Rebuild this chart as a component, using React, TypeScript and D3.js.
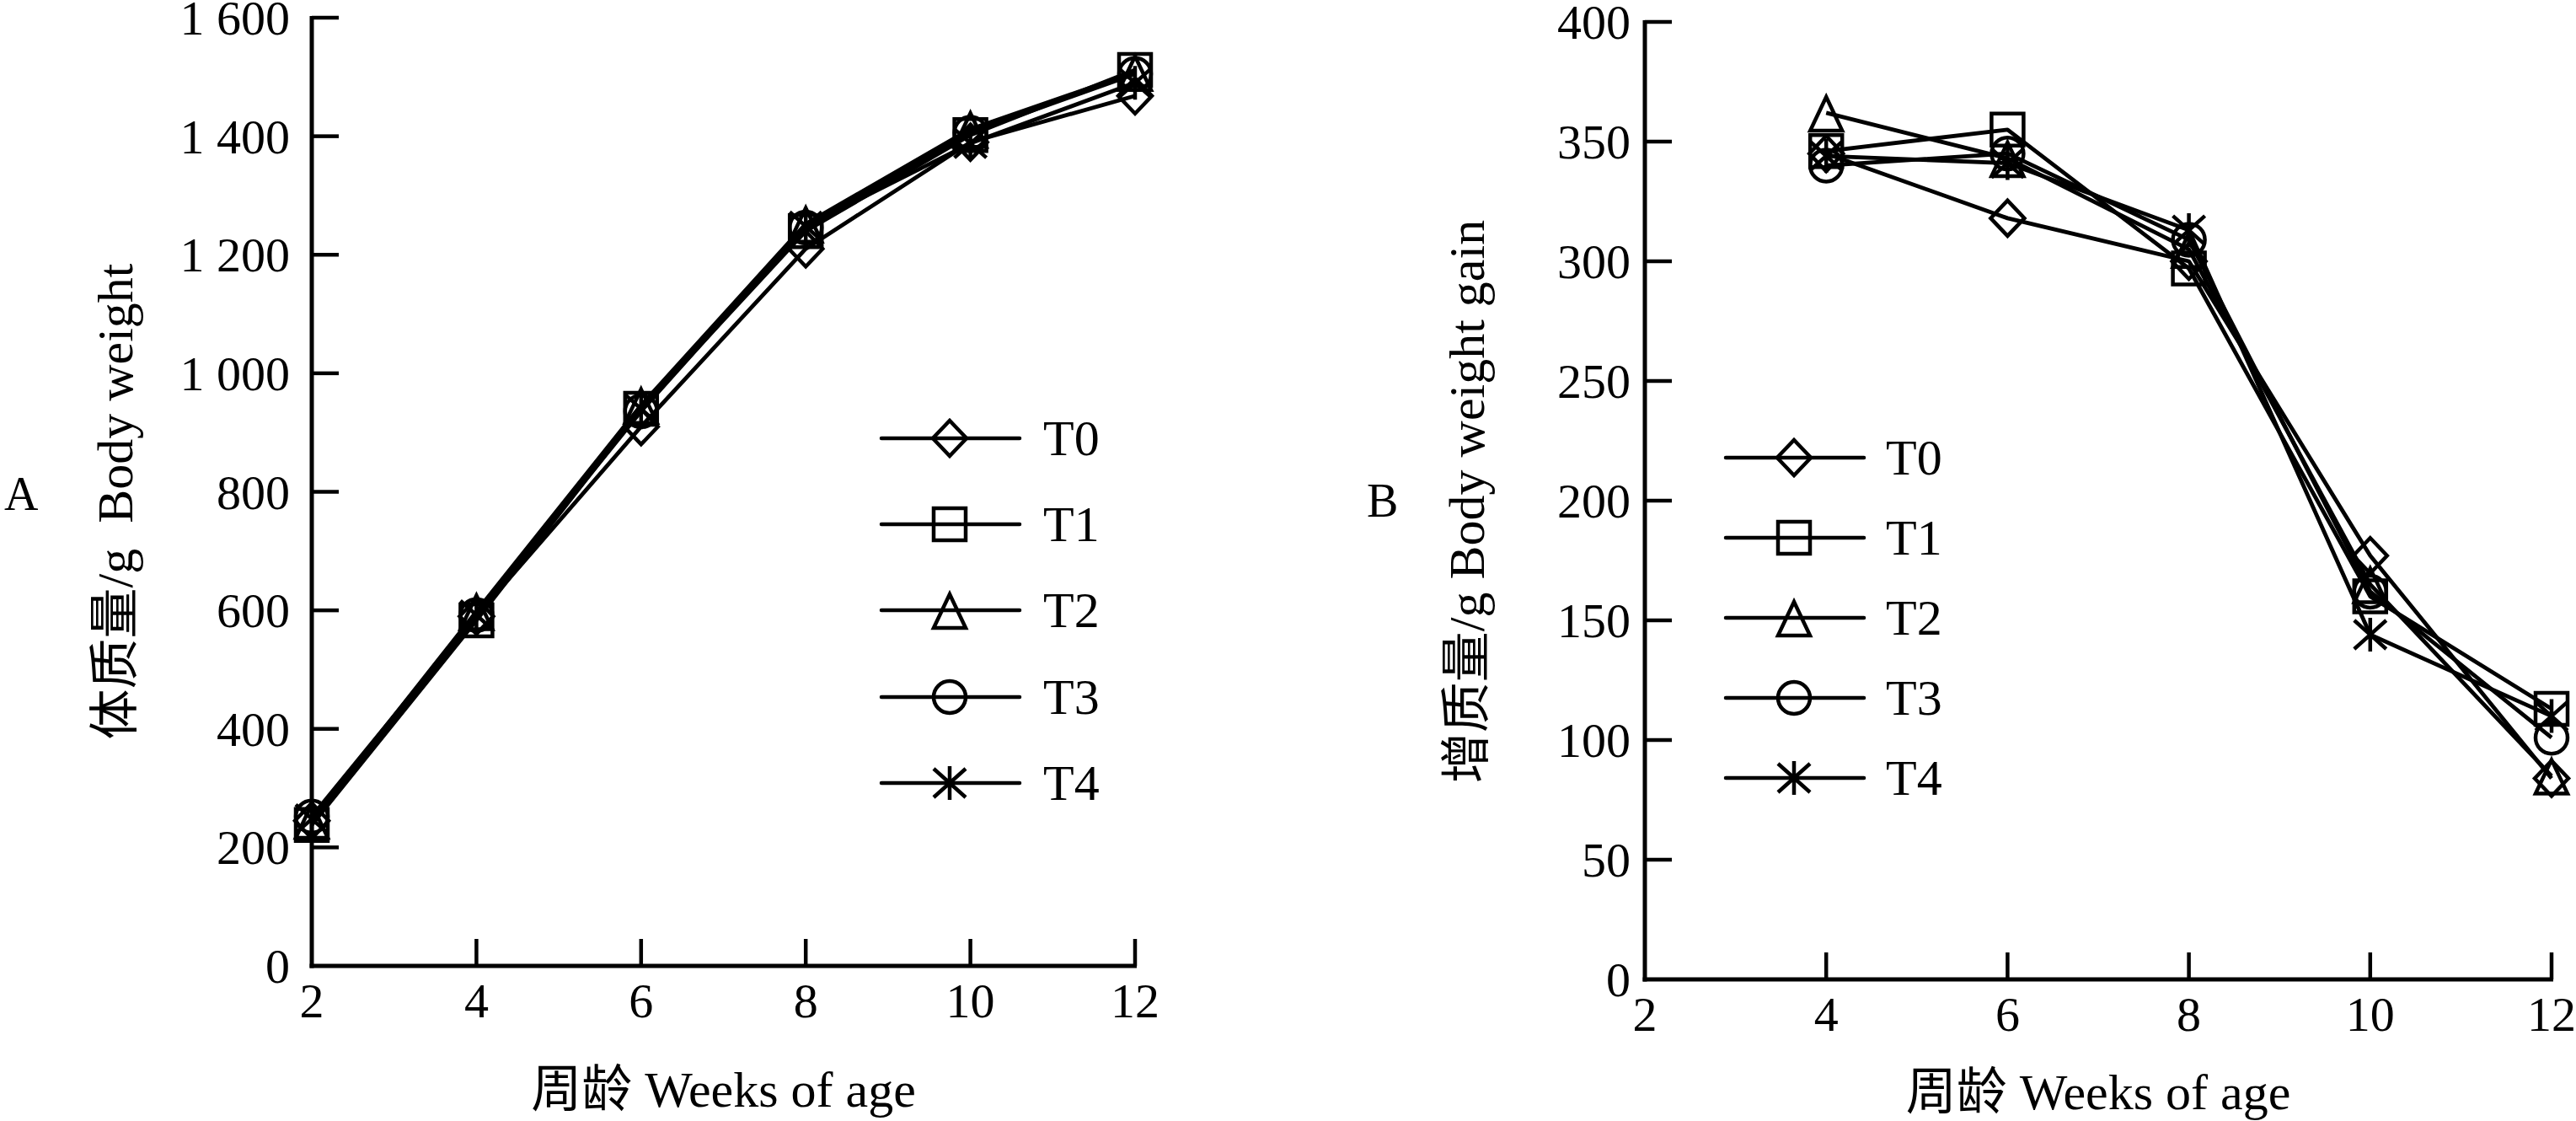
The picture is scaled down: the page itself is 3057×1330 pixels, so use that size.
import { useEffect, useRef } from 'react';
import * as d3 from 'd3';

// weeks of age
const weeks = [2, 4, 6, 8, 10, 12];
const gainWeeks = [4, 6, 8, 10, 12];
const groups = ['T0', 'T1', 'T2', 'T3', 'T4'];

// A: body weight (g)
const weightT0 = [245, 590, 910, 1210, 1390, 1468];
const weightT1 = [238, 583, 940, 1240, 1402, 1512];
const weightT2 = [246, 598, 946, 1252, 1412, 1508];
const weightT3 = [252, 592, 936, 1246, 1406, 1505];
const weightT4 = [248, 592, 940, 1248, 1388, 1490];

// B: body weight gain (g)
const gainT0 = [345, 318, 300, 177, 84];
const gainT1 = [346, 355, 297, 160, 113];
const gainT2 = [362, 343, 305, 165, 85];
const gainT3 = [340, 345, 309, 162, 101];
const gainT4 = [344, 341, 313, 144, 110];

const weekTicks = [2, 4, 6, 8, 10, 12];
const weightTicks = [0, 200, 400, 600, 800, 1000, 1200, 1400, 1600];
const weightTickLabels = ['0', '200', '400', '600', '800', '1 000', '1 200', '1 400', '1 600'];
const gainTicks = [0, 50, 100, 150, 200, 250, 300, 350, 400];
const gainTickLabels = ['0', '50', '100', '150', '200', '250', '300', '350', '400'];

const FONT = "'Liberation Serif', 'Times New Roman', 'Noto Sans CJK SC', serif";

// marker shapes: diamond, square, triangle, circle, asterisk
function markerPath(i: number): string {
  switch (i) {
    case 0: return 'M0,-21L20,0L0,21L-20,0Z';
    case 1: return 'M-19,-19H19V19H-19Z';
    case 2: return 'M0,-19L19,21H-19Z';
    case 3: return 'M19,0A19,19 0 1,1 -19,0A19,19 0 1,1 19,0Z';
    default: return 'M0,-20V20M-19,-17L19,17M-19,17L19,-17';
  }
}

interface PanelOpts {
  letter: string;
  letterX: number;
  letterY: number;
  xRange: [number, number];
  yRange: [number, number];
  yMax: number;
  yTicks: number[];
  yLabels: string[];
  labelGap: number;
  xs: number[];
  series: number[][];
  yTitle: string;
  yTitleX: number;
  yTitleY: number;
  xTitleY: number;
  legendLine: [number, number];
  legendMarker: number;
  legendText: number;
  legendRows: number[];
}

function drawPanel(svg: d3.Selection<SVGSVGElement, unknown, null, undefined>, o: PanelOpts) {
  const x = d3.scaleLinear().domain([2, 12]).range(o.xRange);
  const y = d3.scaleLinear().domain([0, o.yMax]).range(o.yRange);
  const g = svg.append('g');

  // axes
  g.append('line')
    .attr('x1', x(2)).attr('x2', x(2))
    .attr('y1', y(o.yMax) - 2).attr('y2', y(0) + 2.5)
    .attr('stroke', '#000').attr('stroke-width', 5);
  g.append('line')
    .attr('x1', x(2) - 2.5).attr('x2', x(12) + 2)
    .attr('y1', y(0)).attr('y2', y(0))
    .attr('stroke', '#000').attr('stroke-width', 5);

  g.selectAll('.ytick')
    .data(o.yTicks.slice(1))
    .join('line')
    .attr('x1', x(2)).attr('x2', x(2) + 32)
    .attr('y1', d => y(d)).attr('y2', d => y(d))
    .attr('stroke', '#000').attr('stroke-width', 4.5);

  g.selectAll('.xtick')
    .data(weekTicks.slice(1))
    .join('line')
    .attr('x1', d => x(d)).attr('x2', d => x(d))
    .attr('y1', y(0)).attr('y2', y(0) - 32)
    .attr('stroke', '#000').attr('stroke-width', 4.5);

  g.selectAll('.ylab')
    .data(o.yTicks)
    .join('text')
    .attr('x', x(2) - o.labelGap)
    .attr('y', d => y(d) + 20)
    .attr('text-anchor', 'end')
    .attr('font-family', FONT)
    .attr('font-size', 58)
    .style('white-space', 'pre')
    .text((_, i) => o.yLabels[i]);

  g.selectAll('.xlab')
    .data(weekTicks)
    .join('text')
    .attr('x', d => x(d))
    .attr('y', y(0) + 61)
    .attr('text-anchor', 'middle')
    .attr('font-family', FONT)
    .attr('font-size', 58)
    .text(d => String(d));

  // titles
  g.append('text')
    .attr('x', (x(2) + x(12)) / 2)
    .attr('y', o.xTitleY)
    .attr('text-anchor', 'middle')
    .attr('font-family', FONT)
    .attr('font-size', 60)
    .text('周龄 Weeks of age');

  g.append('text')
    .attr('transform', `translate(${o.yTitleX},${o.yTitleY}) rotate(-90)`)
    .attr('text-anchor', 'middle')
    .attr('font-family', FONT)
    .attr('font-size', 60)
    .style('white-space', 'pre')
    .text(o.yTitle);

  g.append('text')
    .attr('x', o.letterX)
    .attr('y', o.letterY)
    .attr('font-family', FONT)
    .attr('font-size', 56)
    .text(o.letter);

  // series
  const line = d3.line<number>()
    .x((_, i) => x(o.xs[i]))
    .y(d => y(d));

  o.series.forEach(vals => {
    g.append('path')
      .attr('d', line(vals) ?? '')
      .attr('fill', 'none')
      .attr('stroke', '#000')
      .attr('stroke-width', 4.8)
      .attr('stroke-linejoin', 'round');
  });
  o.series.forEach((vals, si) => {
    g.selectAll(null)
      .data(vals)
      .join('path')
      .attr('transform', (d, i) => `translate(${x(o.xs[i])},${y(d)})`)
      .attr('d', markerPath(si))
      .attr('fill', 'none')
      .attr('stroke', '#000')
      .attr('stroke-width', 4.5);
  });

  // legend
  groups.forEach((name, i) => {
    const ry = o.legendRows[i];
    g.append('line')
      .attr('x1', o.legendLine[0]).attr('x2', o.legendLine[1])
      .attr('y1', ry).attr('y2', ry)
      .attr('stroke', '#000').attr('stroke-width', 4.5)
      .attr('stroke-linecap', 'round');
    g.append('path')
      .attr('transform', `translate(${o.legendMarker},${ry})`)
      .attr('d', markerPath(i))
      .attr('fill', 'none')
      .attr('stroke', '#000')
      .attr('stroke-width', 4.5);
    g.append('text')
      .attr('x', o.legendText)
      .attr('y', ry + 20)
      .attr('font-family', FONT)
      .attr('font-size', 60)
      .text(name);
  });
}

export default function App() {
  const svgRef = useRef<SVGSVGElement>(null);

  useEffect(() => {
    if (!svgRef.current) return;
    const svg = d3.select(svgRef.current);
    svg.selectAll('*').remove();

    drawPanel(svg, {
      letter: 'A', letterX: 5, letterY: 605,
      xRange: [370, 1347], yRange: [1146, 21], yMax: 1600,
      yTicks: weightTicks, yLabels: weightTickLabels, labelGap: 26,
      xs: weeks,
      series: [weightT0, weightT1, weightT2, weightT3, weightT4],
      yTitle: '体质量/g  Body weight', yTitleX: 157, yTitleY: 595,
      xTitleY: 1313,
      legendLine: [1046, 1210], legendMarker: 1127, legendText: 1238,
      legendRows: [520, 622, 724, 827, 929]
    });

    drawPanel(svg, {
      letter: 'B', letterX: 1622, letterY: 613,
      xRange: [1952, 3028], yRange: [1162, 26], yMax: 400,
      yTicks: gainTicks, yLabels: gainTickLabels, labelGap: 17,
      xs: gainWeeks,
      series: [gainT0, gainT1, gainT2, gainT3, gainT4],
      yTitle: '增质量/g Body weight gain', yTitleX: 1761, yTitleY: 595,
      xTitleY: 1316,
      legendLine: [2048, 2212], legendMarker: 2129, legendText: 2238,
      legendRows: [543, 638, 733, 828, 923]
    });
  }, []);

  return (
    <svg
      ref={svgRef}
      width={3057}
      height={1330}
      style={{ position: 'absolute', left: 0, top: 0, background: '#fff' }}
    />
  );
}
